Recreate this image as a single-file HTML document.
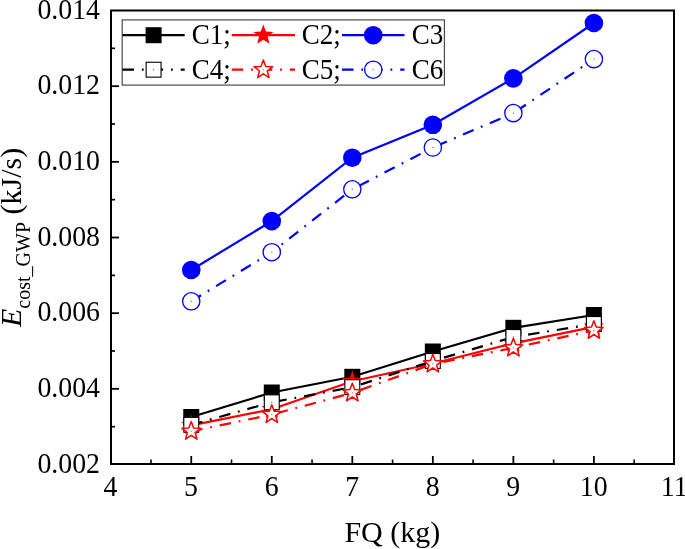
<!DOCTYPE html><html><head><meta charset="utf-8"><style>html,body{margin:0;padding:0;background:#fff;overflow:hidden}svg{display:block;will-change:transform}text{font-family:"Liberation Serif",serif}</style></head><body>
<svg width="685" height="549" viewBox="0 0 685 549">
<polyline points="191.25,417.00 271.78,392.50 352.31,376.80 432.84,351.50 513.37,327.80 593.90,315.00" fill="none" stroke="#000000" stroke-width="2.2"/>
<rect x="183.25" y="409.00" width="16" height="16" fill="#000000"/>
<rect x="263.78" y="384.50" width="16" height="16" fill="#000000"/>
<rect x="344.31" y="368.80" width="16" height="16" fill="#000000"/>
<rect x="424.84" y="343.50" width="16" height="16" fill="#000000"/>
<rect x="505.37" y="319.80" width="16" height="16" fill="#000000"/>
<rect x="585.90" y="307.00" width="16" height="16" fill="#000000"/>
<polyline points="191.25,425.40 271.78,409.30 352.31,381.30 432.84,363.50 513.37,343.40 593.90,326.80" fill="none" stroke="#ff0000" stroke-width="2.2"/>
<polygon points="191.25,414.80 193.87,421.80 201.33,422.12 195.48,426.78 197.48,433.98 191.25,429.85 185.02,433.98 187.02,426.78 181.17,422.12 188.63,421.80" fill="#ff0000"/>
<polygon points="271.78,398.70 274.40,405.70 281.86,406.02 276.01,410.68 278.01,417.88 271.78,413.75 265.55,417.88 267.55,410.68 261.70,406.02 269.16,405.70" fill="#ff0000"/>
<polygon points="352.31,370.70 354.93,377.70 362.39,378.02 356.54,382.68 358.54,389.88 352.31,385.75 346.08,389.88 348.08,382.68 342.23,378.02 349.69,377.70" fill="#ff0000"/>
<polygon points="432.84,352.90 435.46,359.90 442.92,360.22 437.07,364.88 439.07,372.08 432.84,367.95 426.61,372.08 428.61,364.88 422.76,360.22 430.22,359.90" fill="#ff0000"/>
<polygon points="513.37,332.80 515.99,339.80 523.45,340.12 517.60,344.78 519.60,351.98 513.37,347.85 507.14,351.98 509.14,344.78 503.29,340.12 510.75,339.80" fill="#ff0000"/>
<polygon points="593.90,316.20 596.52,323.20 603.98,323.52 598.13,328.18 600.13,335.38 593.90,331.25 587.67,335.38 589.67,328.18 583.82,323.52 591.28,323.20" fill="#ff0000"/>
<polyline points="191.25,270.00 271.78,221.10 352.31,157.70 432.84,124.80 513.37,78.40 593.90,23.00" fill="none" stroke="#0000ff" stroke-width="2.2"/>
<circle cx="191.25" cy="270.00" r="9.3" fill="#0000ff"/>
<circle cx="271.78" cy="221.10" r="9.3" fill="#0000ff"/>
<circle cx="352.31" cy="157.70" r="9.3" fill="#0000ff"/>
<circle cx="432.84" cy="124.80" r="9.3" fill="#0000ff"/>
<circle cx="513.37" cy="78.40" r="9.3" fill="#0000ff"/>
<circle cx="593.90" cy="23.00" r="9.3" fill="#0000ff"/>
<polyline points="191.25,424.80 271.78,402.30 352.31,387.20 432.84,361.00 513.37,337.00 593.90,324.00" fill="none" stroke="#000000" stroke-width="2.2" stroke-dasharray="11.5 7.85 1.8 7.95"/>
<rect x="183.80" y="417.35" width="14.9" height="14.9" fill="#fff" stroke="#000000" stroke-width="1.1"/><rect x="190.70" y="424.25" width="1.1" height="1.1" fill="#000000" fill-opacity="0.7"/>
<rect x="264.33" y="394.85" width="14.9" height="14.9" fill="#fff" stroke="#000000" stroke-width="1.1"/><rect x="271.23" y="401.75" width="1.1" height="1.1" fill="#000000" fill-opacity="0.7"/>
<rect x="344.86" y="379.75" width="14.9" height="14.9" fill="#fff" stroke="#000000" stroke-width="1.1"/><rect x="351.76" y="386.65" width="1.1" height="1.1" fill="#000000" fill-opacity="0.7"/>
<rect x="425.39" y="353.55" width="14.9" height="14.9" fill="#fff" stroke="#000000" stroke-width="1.1"/><rect x="432.29" y="360.45" width="1.1" height="1.1" fill="#000000" fill-opacity="0.7"/>
<rect x="505.92" y="329.55" width="14.9" height="14.9" fill="#fff" stroke="#000000" stroke-width="1.1"/><rect x="512.82" y="336.45" width="1.1" height="1.1" fill="#000000" fill-opacity="0.7"/>
<rect x="586.45" y="316.55" width="14.9" height="14.9" fill="#fff" stroke="#000000" stroke-width="1.1"/><rect x="593.35" y="323.45" width="1.1" height="1.1" fill="#000000" fill-opacity="0.7"/>
<polyline points="191.25,431.30 271.78,414.60 352.31,392.90 432.84,363.90 513.37,347.90 593.90,330.40" fill="none" stroke="#ff0000" stroke-width="2.2" stroke-dasharray="11.5 7.85 1.8 7.95"/>
<polygon points="191.25,421.55 193.66,427.99 200.52,428.29 195.14,432.57 196.98,439.19 191.25,435.40 185.52,439.19 187.36,432.57 181.98,428.29 188.84,427.99" fill="#fff" stroke="#ff0000" stroke-width="1.5" stroke-linejoin="round"/><rect x="190.70" y="430.75" width="1.1" height="1.1" fill="#ff0000" fill-opacity="0.7"/>
<polygon points="271.78,404.85 274.19,411.29 281.05,411.59 275.67,415.87 277.51,422.49 271.78,418.70 266.05,422.49 267.89,415.87 262.51,411.59 269.37,411.29" fill="#fff" stroke="#ff0000" stroke-width="1.5" stroke-linejoin="round"/><rect x="271.23" y="414.05" width="1.1" height="1.1" fill="#ff0000" fill-opacity="0.7"/>
<polygon points="352.31,383.15 354.72,389.59 361.58,389.89 356.20,394.17 358.04,400.79 352.31,397.00 346.58,400.79 348.42,394.17 343.04,389.89 349.90,389.59" fill="#fff" stroke="#ff0000" stroke-width="1.5" stroke-linejoin="round"/><rect x="351.76" y="392.35" width="1.1" height="1.1" fill="#ff0000" fill-opacity="0.7"/>
<polygon points="432.84,354.15 435.25,360.59 442.11,360.89 436.73,365.17 438.57,371.79 432.84,368.00 427.11,371.79 428.95,365.17 423.57,360.89 430.43,360.59" fill="#fff" stroke="#ff0000" stroke-width="1.5" stroke-linejoin="round"/><rect x="432.29" y="363.35" width="1.1" height="1.1" fill="#ff0000" fill-opacity="0.7"/>
<polygon points="513.37,338.15 515.78,344.59 522.64,344.89 517.26,349.17 519.10,355.79 513.37,352.00 507.64,355.79 509.48,349.17 504.10,344.89 510.96,344.59" fill="#fff" stroke="#ff0000" stroke-width="1.5" stroke-linejoin="round"/><rect x="512.82" y="347.35" width="1.1" height="1.1" fill="#ff0000" fill-opacity="0.7"/>
<polygon points="593.90,320.65 596.31,327.09 603.17,327.39 597.79,331.67 599.63,338.29 593.90,334.50 588.17,338.29 590.01,331.67 584.63,327.39 591.49,327.09" fill="#fff" stroke="#ff0000" stroke-width="1.5" stroke-linejoin="round"/><rect x="593.35" y="329.85" width="1.1" height="1.1" fill="#ff0000" fill-opacity="0.7"/>
<polyline points="191.25,301.30 271.78,252.20 352.31,189.30 432.84,147.50 513.37,113.10 593.90,59.10" fill="none" stroke="#0000ff" stroke-width="2.2" stroke-dasharray="11.5 7.85 1.8 7.95"/>
<circle cx="191.25" cy="301.30" r="8.65" fill="#fff" stroke="#0000ff" stroke-width="1.3"/><rect x="190.70" y="300.75" width="1.1" height="1.1" fill="#0000ff" fill-opacity="0.7"/>
<circle cx="271.78" cy="252.20" r="8.65" fill="#fff" stroke="#0000ff" stroke-width="1.3"/><rect x="271.23" y="251.65" width="1.1" height="1.1" fill="#0000ff" fill-opacity="0.7"/>
<circle cx="352.31" cy="189.30" r="8.65" fill="#fff" stroke="#0000ff" stroke-width="1.3"/><rect x="351.76" y="188.75" width="1.1" height="1.1" fill="#0000ff" fill-opacity="0.7"/>
<circle cx="432.84" cy="147.50" r="8.65" fill="#fff" stroke="#0000ff" stroke-width="1.3"/><rect x="432.29" y="146.95" width="1.1" height="1.1" fill="#0000ff" fill-opacity="0.7"/>
<circle cx="513.37" cy="113.10" r="8.65" fill="#fff" stroke="#0000ff" stroke-width="1.3"/><rect x="512.82" y="112.55" width="1.1" height="1.1" fill="#0000ff" fill-opacity="0.7"/>
<circle cx="593.90" cy="59.10" r="8.65" fill="#fff" stroke="#0000ff" stroke-width="1.3"/><rect x="593.35" y="58.55" width="1.1" height="1.1" fill="#0000ff" fill-opacity="0.7"/>
<rect x="111.0" y="10.5" width="563.0" height="453.5" fill="none" stroke="#000" stroke-width="2"/>
<text transform="translate(110.52,495.6) scale(0.96,1)" font-size="29" text-anchor="middle">4</text>
<line x1="191.25" y1="464.0" x2="191.25" y2="456.0" stroke="#000" stroke-width="1.8"/>
<text transform="translate(191.05,495.6) scale(0.96,1)" font-size="29" text-anchor="middle">5</text>
<line x1="271.78" y1="464.0" x2="271.78" y2="456.0" stroke="#000" stroke-width="1.8"/>
<text transform="translate(271.58,495.6) scale(0.96,1)" font-size="29" text-anchor="middle">6</text>
<line x1="352.31" y1="464.0" x2="352.31" y2="456.0" stroke="#000" stroke-width="1.8"/>
<text transform="translate(352.11,495.6) scale(0.96,1)" font-size="29" text-anchor="middle">7</text>
<line x1="432.84" y1="464.0" x2="432.84" y2="456.0" stroke="#000" stroke-width="1.8"/>
<text transform="translate(432.64,495.6) scale(0.96,1)" font-size="29" text-anchor="middle">8</text>
<line x1="513.37" y1="464.0" x2="513.37" y2="456.0" stroke="#000" stroke-width="1.8"/>
<text transform="translate(513.17,495.6) scale(0.96,1)" font-size="29" text-anchor="middle">9</text>
<line x1="593.90" y1="464.0" x2="593.90" y2="456.0" stroke="#000" stroke-width="1.8"/>
<text transform="translate(593.70,495.6) scale(0.96,1)" font-size="29" text-anchor="middle">10</text>
<text transform="translate(674.23,495.6) scale(0.96,1)" font-size="29" text-anchor="middle">11</text>
<line x1="150.99" y1="464.0" x2="150.99" y2="459.5" stroke="#000" stroke-width="1.6"/>
<line x1="231.51" y1="464.0" x2="231.51" y2="459.5" stroke="#000" stroke-width="1.6"/>
<line x1="312.05" y1="464.0" x2="312.05" y2="459.5" stroke="#000" stroke-width="1.6"/>
<line x1="392.57" y1="464.0" x2="392.57" y2="459.5" stroke="#000" stroke-width="1.6"/>
<line x1="473.11" y1="464.0" x2="473.11" y2="459.5" stroke="#000" stroke-width="1.6"/>
<line x1="553.63" y1="464.0" x2="553.63" y2="459.5" stroke="#000" stroke-width="1.6"/>
<line x1="634.16" y1="464.0" x2="634.16" y2="459.5" stroke="#000" stroke-width="1.6"/>
<text transform="translate(100.0,472.82) scale(0.96,1)" font-size="29" text-anchor="end">0.002</text>
<line x1="111.0" y1="388.85" x2="119.0" y2="388.85" stroke="#000" stroke-width="1.8"/>
<text transform="translate(100.0,397.15) scale(0.96,1)" font-size="29" text-anchor="end">0.004</text>
<line x1="111.0" y1="313.18" x2="119.0" y2="313.18" stroke="#000" stroke-width="1.8"/>
<text transform="translate(100.0,321.48) scale(0.96,1)" font-size="29" text-anchor="end">0.006</text>
<line x1="111.0" y1="237.51" x2="119.0" y2="237.51" stroke="#000" stroke-width="1.8"/>
<text transform="translate(100.0,245.81) scale(0.96,1)" font-size="29" text-anchor="end">0.008</text>
<line x1="111.0" y1="161.84" x2="119.0" y2="161.84" stroke="#000" stroke-width="1.8"/>
<text transform="translate(100.0,170.14) scale(0.96,1)" font-size="29" text-anchor="end">0.010</text>
<line x1="111.0" y1="86.17" x2="119.0" y2="86.17" stroke="#000" stroke-width="1.8"/>
<text transform="translate(100.0,94.47) scale(0.96,1)" font-size="29" text-anchor="end">0.012</text>
<text transform="translate(100.0,18.80) scale(0.96,1)" font-size="29" text-anchor="end">0.014</text>
<line x1="111.0" y1="426.69" x2="115.0" y2="426.69" stroke="#000" stroke-width="1.7"/>
<line x1="111.0" y1="351.02" x2="115.0" y2="351.02" stroke="#000" stroke-width="1.7"/>
<line x1="111.0" y1="275.35" x2="115.0" y2="275.35" stroke="#000" stroke-width="1.7"/>
<line x1="111.0" y1="199.67" x2="115.0" y2="199.67" stroke="#000" stroke-width="1.7"/>
<line x1="111.0" y1="124.01" x2="115.0" y2="124.01" stroke="#000" stroke-width="1.7"/>
<line x1="111.0" y1="48.34" x2="115.0" y2="48.34" stroke="#000" stroke-width="1.7"/>
<text x="392.3" y="542.3" font-size="30" text-anchor="middle">FQ (kg)</text>
<g transform="translate(20.8,237.4) rotate(-90)"><text x="0" y="0" font-size="30" text-anchor="middle"><tspan font-style="italic">E</tspan><tspan font-size="20" dy="9">cost_GWP</tspan><tspan dy="-9"> (kJ/s)</tspan></text></g>
<rect x="122.2" y="19.9" width="322.2" height="65.19999999999999" fill="#fff" stroke="#4a4a4a" stroke-width="1.2"/>
<line x1="122.5" y1="35.2" x2="184.7" y2="35.2" stroke="#000000" stroke-width="2.2"/>
<rect x="145.60" y="27.20" width="16" height="16" fill="#000000"/>
<text transform="translate(191.7,44.2) scale(0.95,1)" font-size="28.5">C1;</text>
<line x1="122.5" y1="69.7" x2="184.7" y2="69.7" stroke="#000000" stroke-width="2.2" stroke-dasharray="11.5 7.85 1.8 7.95"/>
<rect x="146.15" y="62.25" width="14.9" height="14.9" fill="#fff" stroke="#000000" stroke-width="1.1"/><rect x="153.05" y="69.15" width="1.1" height="1.1" fill="#000000" fill-opacity="0.7"/>
<text transform="translate(191.7,78.7) scale(0.95,1)" font-size="28.5">C4;</text>
<line x1="231.7" y1="35.2" x2="295" y2="35.2" stroke="#ff0000" stroke-width="2.2"/>
<polygon points="263.35,24.60 265.97,31.60 273.43,31.92 267.58,36.58 269.58,43.78 263.35,39.65 257.12,43.78 259.12,36.58 253.27,31.92 260.73,31.60" fill="#ff0000"/>
<text transform="translate(301.7,44.2) scale(0.95,1)" font-size="28.5">C2;</text>
<line x1="231.7" y1="69.7" x2="295" y2="69.7" stroke="#ff0000" stroke-width="2.2" stroke-dasharray="11.5 7.85 1.8 7.95"/>
<polygon points="263.35,59.95 265.76,66.39 272.62,66.69 267.24,70.97 269.08,77.59 263.35,73.80 257.62,77.59 259.46,70.97 254.08,66.69 260.94,66.39" fill="#fff" stroke="#ff0000" stroke-width="1.5" stroke-linejoin="round"/><rect x="262.80" y="69.15" width="1.1" height="1.1" fill="#ff0000" fill-opacity="0.7"/>
<text transform="translate(301.7,78.7) scale(0.95,1)" font-size="28.5">C5;</text>
<line x1="342" y1="35.2" x2="404.5" y2="35.2" stroke="#0000ff" stroke-width="2.2"/>
<circle cx="373.25" cy="35.20" r="9.3" fill="#0000ff"/>
<text transform="translate(411.7,44.2) scale(0.95,1)" font-size="28.5">C3</text>
<line x1="342" y1="69.7" x2="404.5" y2="69.7" stroke="#0000ff" stroke-width="2.2" stroke-dasharray="11.5 7.85 1.8 7.95"/>
<circle cx="373.25" cy="69.70" r="8.65" fill="#fff" stroke="#0000ff" stroke-width="1.3"/><rect x="372.70" y="69.15" width="1.1" height="1.1" fill="#0000ff" fill-opacity="0.7"/>
<text transform="translate(411.7,78.7) scale(0.95,1)" font-size="28.5">C6</text>
</svg></body></html>
